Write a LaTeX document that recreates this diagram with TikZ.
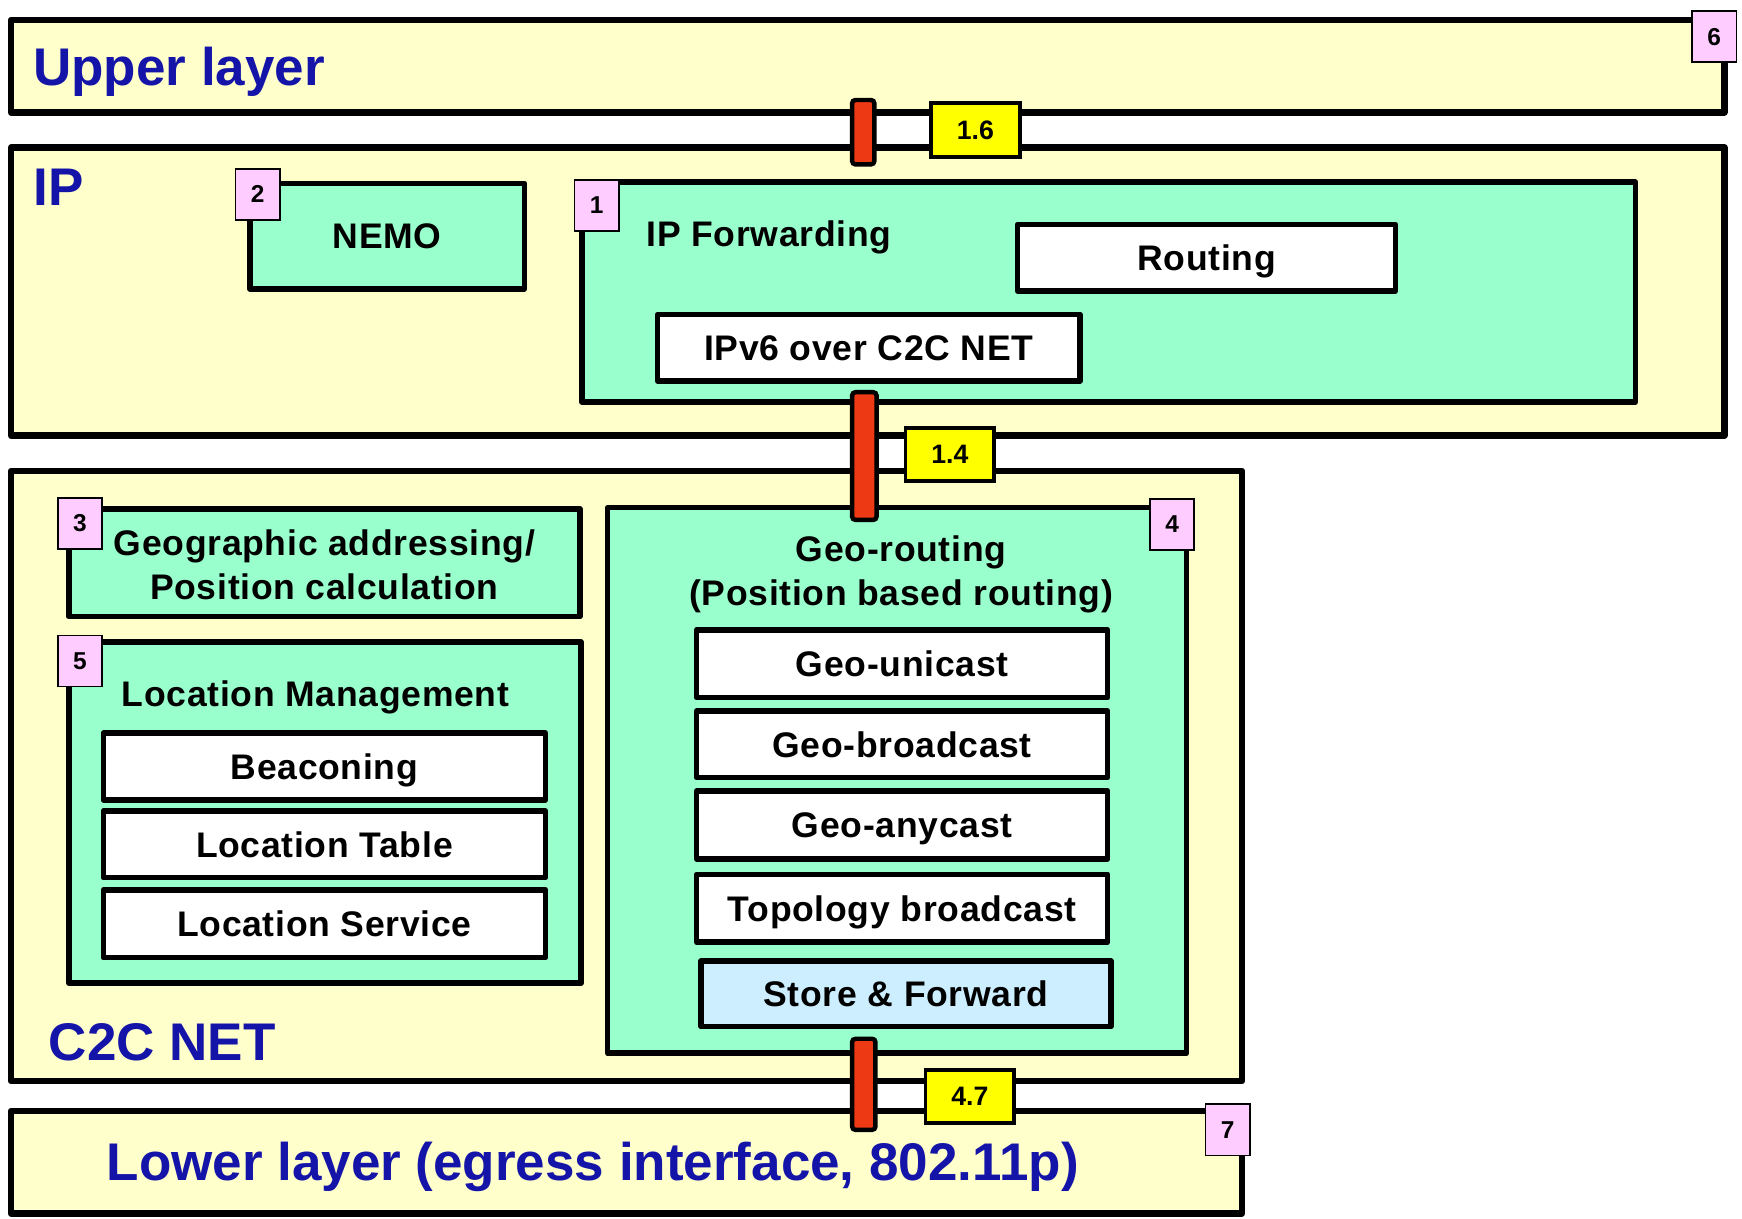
\documentclass[tikz,border=0pt]{standalone}
\usepackage{fontspec}
\setmainfont{Liberation Sans}
\newfontfamily\spacedsans[LetterSpace=2]{Liberation Sans}
\definecolor{layerfill}{HTML}{FFFFCC}
\definecolor{mint}{HTML}{99FFCC}
\definecolor{badgepink}{HTML}{FFCCFF}
\definecolor{sapyellow}{HTML}{FFFF00}
\definecolor{barred}{HTML}{EE3A14}
\definecolor{titleblue}{HTML}{1414A8}
\definecolor{paleblue}{HTML}{CCEEFF}
\newcommand{\ltitlefont}{\fontsize{47.7}{56}\selectfont\bfseries}
\newcommand{\modfont}{\spacedsans\fontsize{32}{38}\selectfont\bfseries}
\newcommand{\badgefnt}{\fontsize{22}{26}\selectfont\bfseries}
\newcommand{\sapfnt}{\fontsize{24}{28}\selectfont\bfseries}
\begin{document}
\begin{tikzpicture}[x=1pt,y=-1pt,
  every node/.style={inner sep=0pt, outer sep=0pt},
  span/.style n args={4}{at={(#1,#2)}, anchor=north west, rectangle,
    minimum width={(#3-(#1))*1pt}, minimum height={(#4-(#2))*1pt}},
  layerbox/.style={draw=black, line width=6pt, fill=layerfill, line join=round},
  modbox/.style={draw=black, line width=5pt, fill=mint, line join=round},
  subbox/.style={draw=black, line width=5pt, fill=white, line join=round,
    font=\modfont, text height=23pt, text depth=0pt},
  badge/.style={draw=black, line width=1.5pt, fill=badgepink, anchor=north west,
    minimum width=40pt, minimum height=46pt, font=\badgefnt},
  sap/.style={draw=black, line width=3.5pt, fill=sapyellow, anchor=north west,
    minimum width=80pt, minimum height=48pt, font=\sapfnt},
  bar/.style={draw=black, line width=4pt, fill=barred, rounded corners=3pt},
  layertitle/.style={text=titleblue, font=\ltitlefont, anchor=base west},
  modtitle/.style={font=\modfont, anchor=base}]

% canvas
\fill[white] (0,0) rectangle (1568,1097);
\useasboundingbox (0,0) rectangle (1568,1097);

% layers
\node[layerbox, span={10}{18}{1552}{101}] (upper) {};
\node[layerbox, span={10}{133}{1552}{392}] (ip) {};
\node[layerbox, span={10}{424}{1118}{973}] (c2c) {};
\node[layerbox, span={10}{1000}{1118}{1092}] (lower) {};

\node[layertitle] (upperT) at (30,77) {Upper layer};
\node[layertitle] (ipT) at (30,185) {IP};
\node[layertitle] (c2cT) at (44,955) {C2C NET};
\node[layertitle] (lowerT) at (96,1063) {Lower layer (egress interface, 802.11p)};

% IP layer modules
\node[modbox, span={225}{165}{472}{260}, font=\modfont, text height=23pt, text depth=0pt] (nemo) {NEMO};
\node[modbox, span={524}{164}{1472}{362}] (ipfwd) {};
\node[modtitle, anchor=base west] (ipfwdT) at (582,222) {IP Forwarding};
\node[subbox, span={916}{202}{1256}{262}] (routing) {Routing};
\node[subbox, span={592}{283}{972}{343}] (ipv6) {IPv6 over C2C NET};

% C2C NET modules
\node[modbox, span={62}{458}{522}{555}] (geoaddr) {};
\node[modtitle] (geoaddrA) at (292,500) {Geographic addressing/};
\node[modtitle] (geoaddrB) at (292,540) {Position calculation};

\node[modbox, span={62}{578}{523}{885}] (locmgmt) {};
\node[modtitle] (locmgmtT) at (284,636) {Location Management};
\node[subbox, span={93}{660}{491}{720}] (beacon) {Beaconing};
\node[subbox, span={93}{730}{491}{790}] (loctab) {Location Table};
\node[subbox, span={93}{801}{491}{862}] (locserv) {Location Service};

\node[modbox, span={547}{457}{1068}{948}] (georout) {};
\node[modtitle] (georoutA) at (811,505) {Geo-routing};
\node[modtitle] (georoutB) at (811,545) {(Position based routing)};
\node[subbox, span={627}{567}{997}{628}] (guni) {Geo-unicast};
\node[subbox, span={627}{640}{997}{700}] (gbc) {Geo-broadcast};
\node[subbox, span={627}{712}{997}{773}] (gany) {Geo-anycast};
\node[subbox, span={627}{787}{997}{848}] (topo) {Topology broadcast};
\node[subbox, span={631}{865}{1000}{924}, fill=paleblue] (sf) {Store \& Forward};

% badges
\node[badge] (b6) at (1523,10) {6};
\node[badge] (b2) at (212,152) {2};
\node[badge] (b1) at (517,162) {1};
\node[badge] (b3) at (52,448) {3};
\node[badge] (b5) at (52,572) {5};
\node[badge] (b4) at (1035,449) {4};
\node[badge] (b7) at (1085,994) {7};

% service access points between layers
\node[bar, span={767}{90}{787}{148}] (sap16bar) {};
\node[sap] (sap16) at (838,93) {1.6};
\node[bar, span={767}{353}{789}{468}] (sap14bar) {};
\node[sap] (sap14) at (815,385) {1.4};
\node[bar, span={767}{935}{788}{1017}] (sap47bar) {};
\node[sap] (sap47) at (833,963) {4.7};
\end{tikzpicture}
\end{document}
